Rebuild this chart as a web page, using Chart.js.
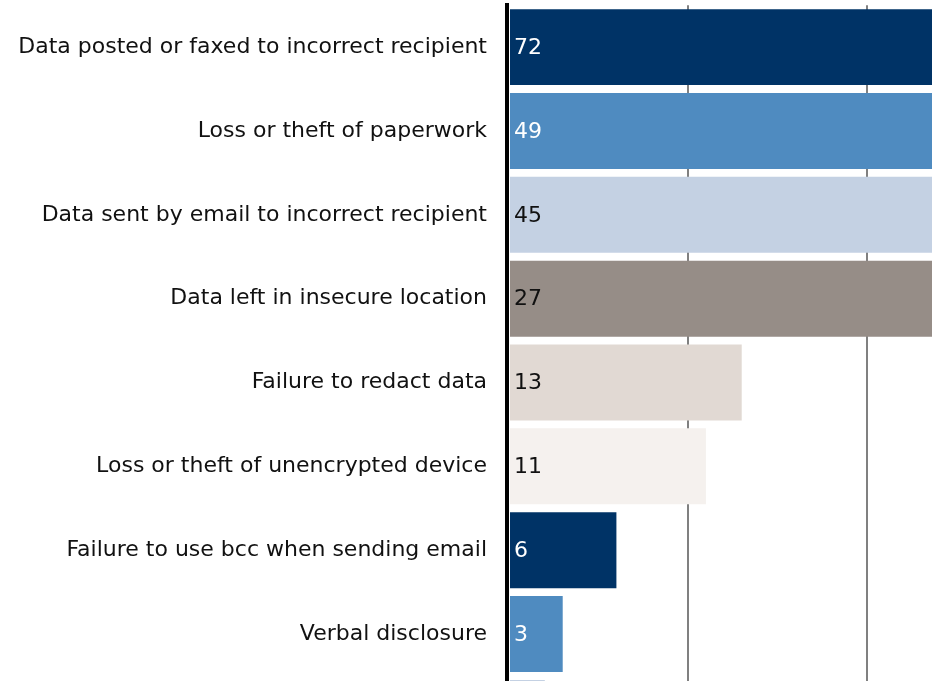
<!DOCTYPE html>
<html>
<head>
<meta charset="utf-8">
<script src="https://cdn.jsdelivr.net/npm/chart.js@4/dist/chart.umd.min.js"></script>
<style>
  html, body { margin: 0; padding: 0; background: #fff; overflow: hidden; }
  #grafico { display: block; margin-top: -28px; }
</style>
</head>
<body>
<canvas id="grafico" width="932" height="821"></canvas>
<script>
// categorias e valores (a última barra aparece cortada na imagem)
const categorias = [
    "Data posted or faxed to incorrect recipient",
    "Loss or theft of paperwork",
    "Data sent by email to incorrect recipient",
    "Data left in insecure location",
    "Failure to redact data",
    "Loss or theft of unencrypted device",
    "Failure to use bcc when sending email",
    "Verbal disclosure",
    "Other"
];
const valores = [72, 49, 45, 27, 13, 11, 6, 3, 2];
const cores = ["#003366", "#4f8bc0", "#c4d1e3", "#968d87", "#e1d9d3", "#f5f1ee",
               "#003366", "#4f8bc0", "#c4d1e3"];
const corTexto = ["#fff", "#fff", "#111", "#111", "#111", "#111", "#fff", "#fff", "#111"];
const gradeValores = [0, 10, 20];

const fonte = "'DejaVu Sans', Verdana, sans-serif";

// rótulo com o valor no início de cada barra
const rotulosValor = {
    id: "rotulosValor",
    afterDatasetsDraw(chart) {
        const ctx = chart.ctx;
        const meta = chart.getDatasetMeta(0);
        const x0 = chart.scales.x.getPixelForValue(0);
        ctx.save();
        ctx.font = "22px " + fonte;
        ctx.textAlign = "left";
        ctx.textBaseline = "middle";
        meta.data.forEach((bar, i) => {
            ctx.fillStyle = corTexto[i];
            ctx.fillText(String(valores[i]), x0 + 5, bar.y + 1);
        });
        ctx.restore();
    }
};

new Chart(document.getElementById("grafico").getContext("2d"), {
    type: "bar",
    data: {
        labels: categorias,
        datasets: [{
            data: valores,
            backgroundColor: cores,
            borderWidth: 0,
            barPercentage: 0.906,
            categoryPercentage: 1
        }]
    },
    options: {
        indexAxis: "y",
        responsive: false,
        animation: false,
        layout: { padding: 0 },
        plugins: {
            legend: { display: false },
            tooltip: { enabled: false }
        },
        scales: {
            x: {
                min: -0.112,
                max: 23.63,
                border: { display: false },
                grid: {
                    drawTicks: false,
                    lineWidth: 2,
                    color: (c) => (c.tick && c.tick.value === 0) ? "rgba(0,0,0,0)" : "#808080"
                },
                ticks: { display: false, stepSize: 10, includeBounds: false },
                afterBuildTicks: (s) => { s.ticks = gradeValores.map(v => ({ value: v })); }
            },
            y: {
                border: { display: true, color: "#000", width: 4 },
                grid: { display: false, drawTicks: false },
                ticks: {
                    color: "#111",
                    padding: 20,
                    font: { family: fonte, size: 22 }
                },
                afterFit: (s) => { s.width = 507; }
            }
        }
    },
    plugins: [rotulosValor]
});
</script>
</body>
</html>
